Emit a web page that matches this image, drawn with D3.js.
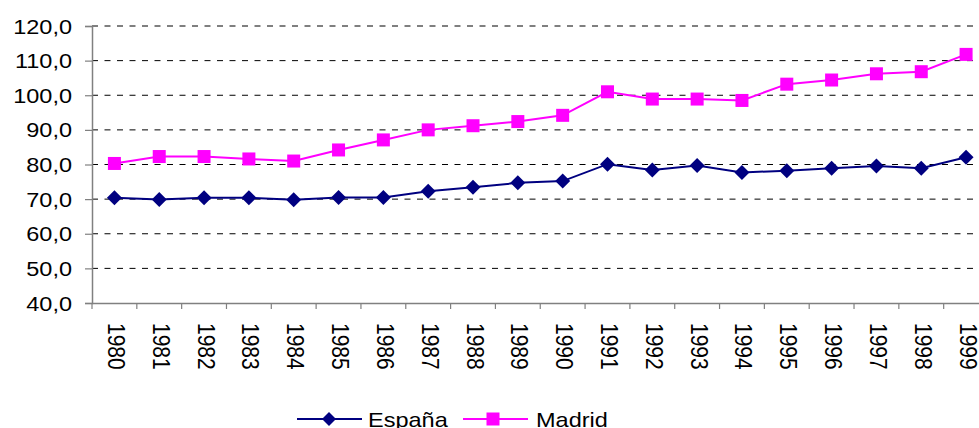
<!DOCTYPE html>
<html><head><meta charset="utf-8">
<script src="https://cdn.jsdelivr.net/npm/d3@7"></script>
<style>
html,body{margin:0;padding:0;background:#fff;}
svg{display:block;font-family:"Liberation Sans",Arial,sans-serif;}
</style></head>
<body>
<svg id="chart" width="979" height="428"></svg>
<script>
const years = ["1980","1981","1982","1983","1984","1985","1986","1987","1988","1989","1990","1991","1992","1993","1994","1995","1996","1997","1998","1999"];
const espana = [70.4,69.9,70.4,70.4,69.8,70.5,70.5,72.3,73.4,74.7,75.2,80.1,78.4,79.7,77.7,78.2,78.9,79.6,78.9,82.1];
const madrid = [80.3,82.3,82.3,81.6,81.0,84.2,87.1,90.0,91.2,92.4,94.2,101.0,98.9,98.9,98.5,103.2,104.4,106.2,106.8,111.8];
const yTicks = [40,50,60,70,80,90,100,110,120];
const seriesNames = ["España","Madrid"];

(function(){
const svg = d3.select("#chart");
const mLeft = 92, mRight = 988.5, mTop = 26, mBottom = 303;
const x = d3.scaleBand().domain(years).range([mLeft, mRight]);
const y = d3.scaleLinear().domain([40,120]).range([mBottom, mTop]);
const fmt = v => d3.format(".1f")(v).replace(".", ",");
const sx = 1.12;

// gridlines
svg.append("g").selectAll("line").data(yTicks.filter(t => t > 40)).join("line")
  .attr("x1", mLeft).attr("x2", 979)
  .attr("y1", d => y(d)).attr("y2", d => y(d))
  .attr("stroke", "#000").attr("stroke-width", 1)
  .attr("stroke-dasharray", "6,6.5");

// y axis
const yAxis = svg.append("g").attr("transform", `translate(${mLeft},0)`)
  .call(d3.axisLeft(y).tickValues(yTicks).tickSize(7).tickPadding(0).tickFormat(() => ""));
yAxis.select(".domain").attr("stroke", "#808080").attr("stroke-width", 1.5);
yAxis.selectAll(".tick line").attr("stroke", "#808080").attr("stroke-width", 1.2);
svg.append("g").selectAll("text").data(yTicks).join("text")
  .attr("transform", d => `translate(72,${y(d)}) scale(${sx},1)`)
  .attr("dy", "0.36em")
  .attr("text-anchor", "end")
  .attr("font-size", 21)
  .attr("fill", "#000")
  .text(fmt);

// x axis
const xAxis = svg.append("g").attr("transform", `translate(0,${mBottom})`)
  .call(d3.axisBottom(x).tickSize(0).tickFormat(() => ""));
xAxis.select(".domain").attr("stroke", "#808080").attr("stroke-width", 1.5);
const bounds = d3.range(years.length + 1).map(i => mLeft + i * x.bandwidth());
svg.append("g").selectAll("line").data(bounds).join("line")
  .attr("x1", d => d).attr("x2", d => d)
  .attr("y1", mBottom).attr("y2", mBottom + 6)
  .attr("stroke", "#808080").attr("stroke-width", 1.2);
svg.append("g").selectAll("text").data(years).join("text")
  .attr("transform", d => `translate(${x(d) + x.bandwidth()/2 + 2},${mBottom + 20}) rotate(90) scale(1,${sx})`)
  .attr("dy", "0.36em")
  .attr("text-anchor", "start")
  .attr("font-size", 21)
  .attr("fill", "#000")
  .text(d => d);

const cx = d => x(d) + x.bandwidth()/2;
const line = d3.line().x((d,i) => cx(years[i])).y(d => y(d));

// Madrid
svg.append("path").datum(madrid).attr("d", line)
  .attr("fill", "none").attr("stroke", "#FF00FF").attr("stroke-width", 2);
svg.append("g").selectAll("rect").data(madrid).join("rect")
  .attr("x", (d,i) => cx(years[i]) - 6.5).attr("y", d => y(d) - 6.5)
  .attr("width", 13).attr("height", 13).attr("fill", "#FF00FF");

// España
svg.append("path").datum(espana).attr("d", line)
  .attr("fill", "none").attr("stroke", "#000080").attr("stroke-width", 2);
const diamond = (px, py, r) => `M${px},${py - r}L${px + r},${py}L${px},${py + r}L${px - r},${py}Z`;
svg.append("g").selectAll("path").data(espana).join("path")
  .attr("d", (d,i) => diamond(cx(years[i]), y(d), 7.5))
  .attr("fill", "#000080");

// legend
const leg = svg.append("g");
const ly = 419;
leg.append("line").attr("x1", 297).attr("x2", 362).attr("y1", ly).attr("y2", ly)
  .attr("stroke", "#000080").attr("stroke-width", 2);
leg.append("path").attr("d", diamond(329, ly, 7)).attr("fill", "#000080");
leg.append("text").attr("transform", `translate(368,${ly + 7.5}) scale(${sx},1)`)
  .attr("font-size", 21).attr("fill", "#000").text(seriesNames[0]);
leg.append("line").attr("x1", 463).attr("x2", 528).attr("y1", ly).attr("y2", ly)
  .attr("stroke", "#FF00FF").attr("stroke-width", 2);
leg.append("rect").attr("x", 493 - 6.5).attr("y", ly - 6.5).attr("width", 13).attr("height", 13)
  .attr("fill", "#FF00FF");
leg.append("text").attr("transform", `translate(536,${ly + 7.5}) scale(${sx},1)`)
  .attr("font-size", 21).attr("fill", "#000").text(seriesNames[1]);
})();
</script>
</body></html>
